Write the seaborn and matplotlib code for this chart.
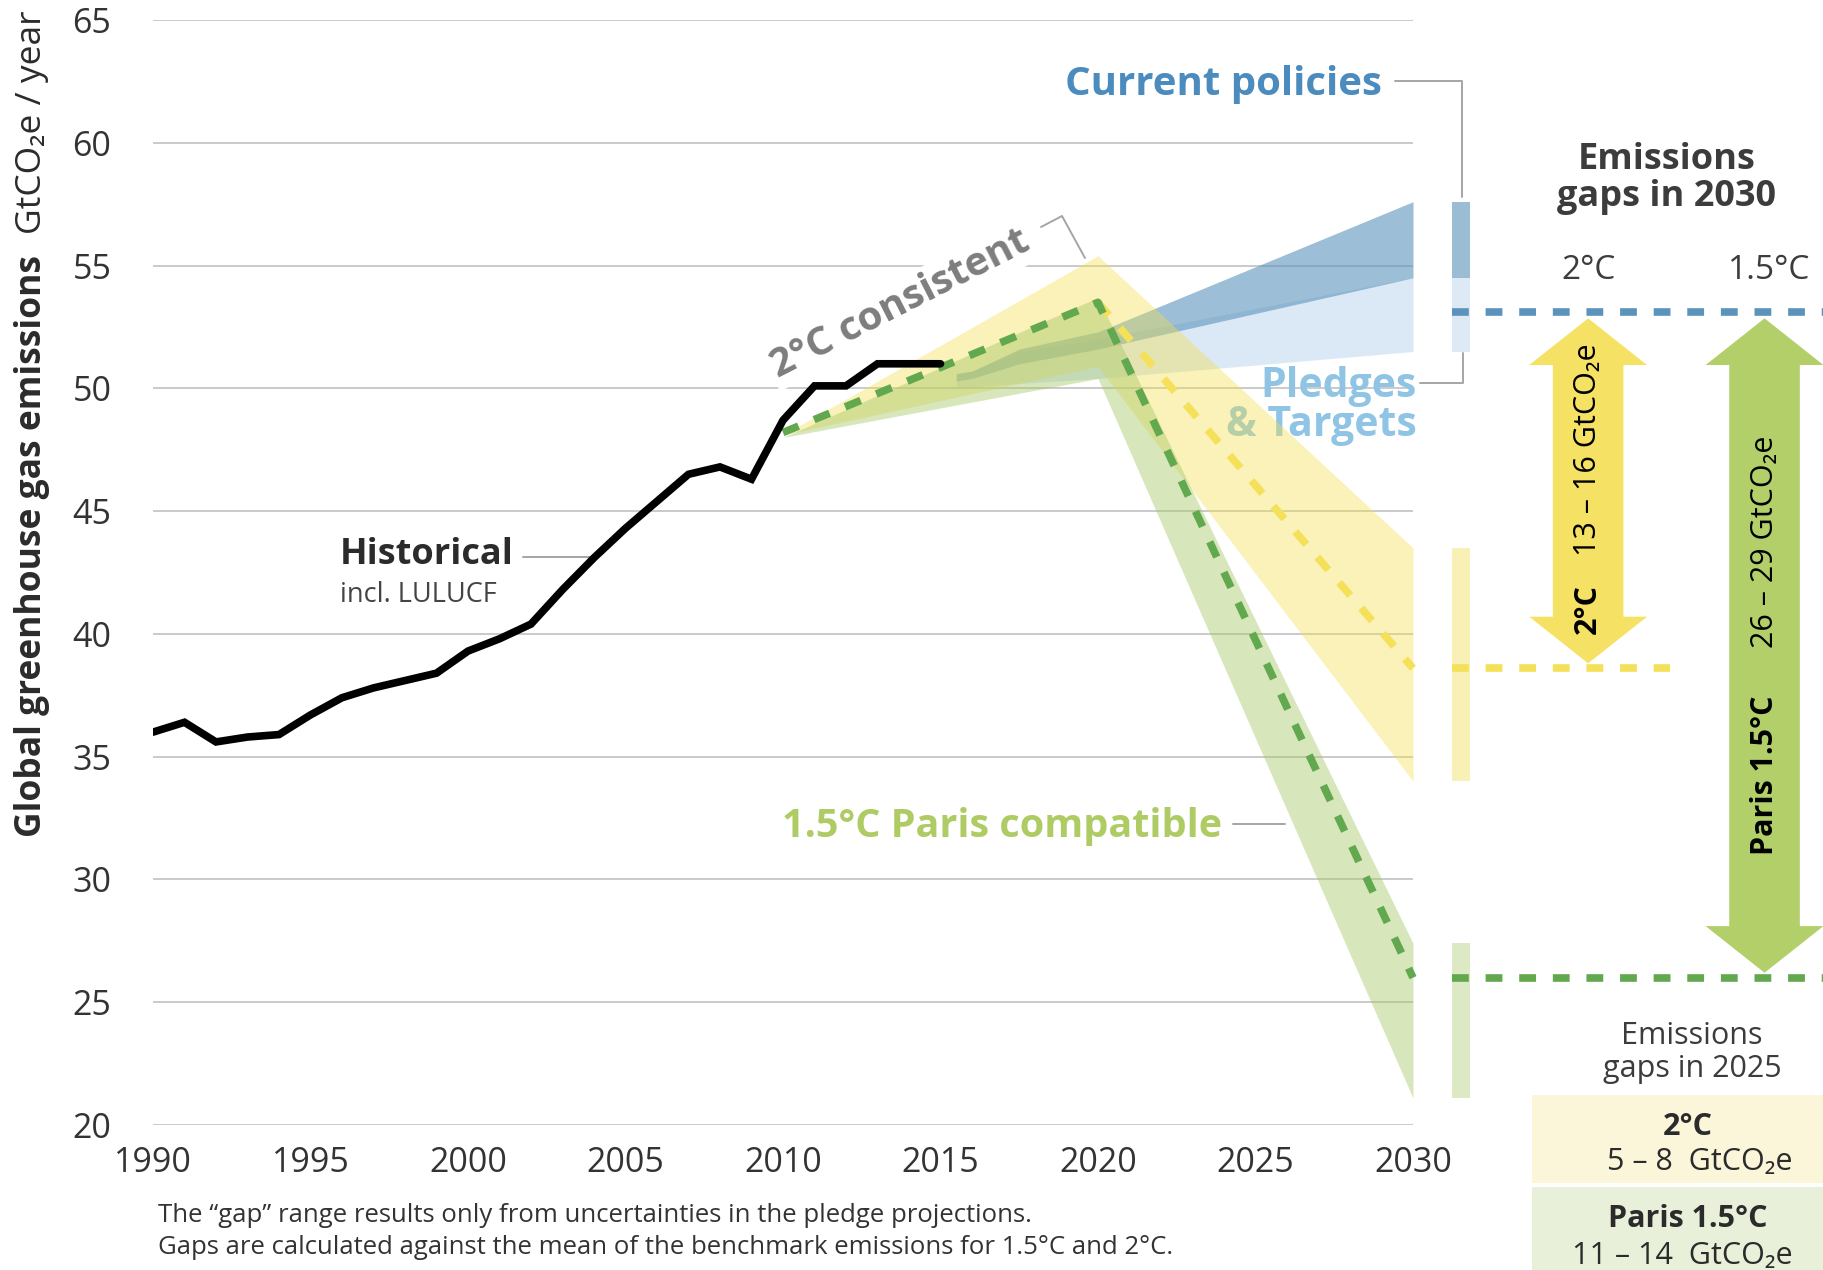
import matplotlib
matplotlib.use("Agg")
import matplotlib.pyplot as plt
from matplotlib.lines import Line2D
from matplotlib.patches import Rectangle, Polygon
import seaborn as sns

# historical emissions incl. LULUCF (GtCO2e / year)
hist_years = list(range(1990, 2016))
hist_values = [36.0, 36.4, 35.6, 35.8, 35.9, 36.7, 37.4, 37.8, 38.1, 38.4,
               39.3, 39.8, 40.4, 41.8, 43.1, 44.3, 45.4, 46.5, 46.8, 46.3,
               48.7, 50.1, 50.1, 51.0, 51.0, 51.0]

# benchmark pathways
path_years = [2010, 2020, 2030]
two_upper = [48.1, 55.4, 43.5]
two_lower = [48.1, 50.9, 34.0]
one5_upper = [48.0, 53.7, 27.4]
one5_lower = [48.0, 50.4, 21.1]
one5_mean = [48.2, 53.5, 26.0]
two_mean_years = [2020, 2030]
two_mean = [53.5, 38.6]

# projections
proj_years = [2015.5, 2016, 2017.5, 2020, 2030]
cpol_upper = [50.6, 50.7, 51.6, 52.3, 57.6]
cpol_lower = [50.3, 50.4, 51.0, 51.6, 54.5]
pledge_upper = [50.6, 50.7, 51.5, 52.0, 54.5]
pledge_lower = [50.0, 50.05, 50.2, 50.4, 51.5]
pledge_mean_2030 = 53.1

gap_2030_labels = ["13 \u2013 16", "26 \u2013 29"]
gap_2025_labels = ["5 \u2013 8", "11 \u2013 14"]

W, H = 1824, 1270
X0, PXY = 153, 31.5        # pixel of 1990, pixels per year
sns.set_style("white")
plt.rcParams['font.family'] = ['Open Sans', 'DejaVu Sans']

fig = plt.figure(figsize=(W / 100, H / 100), dpi=100)
ax = fig.add_axes([X0 / W, 1 - 1125 / H, (W - X0) / W, 1105 / H])
ax.set_xlim(1990, 1990 + (W - X0) / PXY)
ax.set_ylim(20, 65)
sns.despine(ax=ax, left=True, bottom=True)

def ftext(x, y, s, **kw):
    return ax.text(x / W, 1 - y / H, s, transform=fig.transFigure, **kw)

def fline(xs, ys, **kw):
    ax.add_artist(Line2D([x / W for x in xs], [1 - y / H for y in ys], clip_on=False,
                         transform=fig.transFigure, color='#a5a5a5', lw=1.4, **kw))

# grid
ax.hlines(range(20, 66, 5), 1990, 2030, color='#cacaca', lw=1.4, zorder=0)
ax.set_xticks(range(1990, 2031, 5))
ax.set_yticks(range(20, 66, 5))
ax.tick_params(length=0, labelsize=24.5, labelcolor='#333333')
ax.tick_params(axis='y', pad=30)
ax.tick_params(axis='x', pad=15)

# bands
ax.fill_between(proj_years, pledge_lower, pledge_upper, color='#a7c7e7', alpha=0.4, lw=0, zorder=2)
ax.fill_between(proj_years, cpol_lower, cpol_upper, color='#5b93bb', alpha=0.6, lw=0, zorder=2)
ax.fill_between(path_years, two_lower, two_upper, color='#f3e04f', alpha=0.4, lw=0, zorder=2.1)
ax.fill_between(path_years, one5_lower, one5_upper, color='#a8c86a', alpha=0.45, lw=0, zorder=2.2)

dash = (0, (2.2, 2.2))
sns.lineplot(x=hist_years, y=hist_values, color='black', lw=5.5, ax=ax, zorder=4,
             solid_joinstyle='miter')
sns.lineplot(x=two_mean_years, y=two_mean, color='#f5e05a', lw=5.5, linestyle=dash, ax=ax, zorder=3)
sns.lineplot(x=path_years, y=one5_mean, color='#62a84f', lw=5.5, linestyle=dash, ax=ax, zorder=3.1)
ax.set_xlabel('')
ax.set_ylabel('')

# gap bars at 2030
bx, bw = 2031.52, 0.58
ax.bar(bx, cpol_upper[-1] - cpol_lower[-1], bottom=cpol_lower[-1], width=bw, color='#9bbdd4', lw=0, clip_on=False)
ax.bar(bx, pledge_upper[-1] - pledge_lower[-1], bottom=pledge_lower[-1], width=bw, color='#dde9f4', lw=0, clip_on=False)
ax.bar(bx, two_upper[-1] - two_lower[-1], bottom=two_lower[-1], width=bw, color='#f8f0b4', lw=0, clip_on=False)
ax.bar(bx, one5_upper[-1] - one5_lower[-1], bottom=one5_lower[-1], width=bw, color='#dde8c4', lw=0, clip_on=False)

x_end = ax.get_xlim()[1]
xs = bx - bw / 2
ax.plot([xs, x_end], [pledge_mean_2030] * 2, color='#5b93bb', lw=5.5, ls=dash, clip_on=False, zorder=3)
ax.plot([xs, 2038.16], [two_mean[-1]] * 2, color='#f5e05a', lw=5.5, ls=dash, clip_on=False, zorder=3)
ax.plot([xs, x_end], [one5_mean[-1]] * 2, color='#62a84f', lw=5.5, ls=dash, clip_on=False, zorder=3)

def double_arrow(xc, top, bottom, color):
    sw, hw, hl = 1.12, 1.87, 1.9
    pts = [(xc, top), (xc + hw, top - hl), (xc + sw, top - hl), (xc + sw, bottom + hl),
           (xc + hw, bottom + hl), (xc, bottom), (xc - hw, bottom + hl), (xc - sw, bottom + hl),
           (xc - sw, top - hl), (xc - hw, top - hl)]
    ax.add_patch(Polygon(pts, closed=True, fc=color, ec='none', clip_on=False, zorder=3))

double_arrow(2035.56, pledge_mean_2030 - 0.25, two_mean[-1] + 0.2, '#f5e264')
double_arrow(2041.16, pledge_mean_2030 - 0.25, one5_mean[-1] + 0.2, '#b2cf6a')

# mixed-weight rotated labels
def vlabel(x, y_bottom, y_top, bold, regular, size, color):
    ftext(x, y_bottom, bold, rotation=90, ha='center', va='bottom', fontsize=size,
          fontweight='bold', color=color)
    ftext(x, y_top, regular, rotation=90, ha='center', va='top', fontsize=size, color=color)

vlabel(32, 837, 10, 'Global greenhouse gas emissions', 'GtCO\u2082e / year', 25.5, '#2b2b2b')
vlabel(1588, 634, 343, '2\u00b0C', gap_2030_labels[0] + ' GtCO\u2082e', 22, 'black')
vlabel(1765, 855, 436, 'Paris 1.5\u00b0C', gap_2030_labels[1] + ' GtCO\u2082e', 22, 'black')

# annotations
ftext(1382, 84, 'Current policies', ha='right', va='center', fontsize=29, fontweight='bold', color='#4b8bbd')
fline([1395, 1462, 1462], [81, 81, 197])
ftext(1417, 387, 'Pledges', ha='right', va='center', fontsize=29.5, fontweight='bold', color='#8fc4e4', zorder=1.5)
ftext(1417, 425, '& Targets', ha='right', va='center', fontsize=29.5, fontweight='bold', color='#8fc4e4', zorder=1.5)
fline([1463, 1463, 1420], [353, 383, 383])
ftext(900, 304, '2\u00b0C consistent', ha='center', va='center', rotation=27, rotation_mode='anchor',
      fontsize=29, fontweight='bold', color='#7d7d7d', zorder=1,
      bbox=dict(fc='white', ec='none', pad=3))
fline([1041, 1062, 1085], [227, 216, 258])
ftext(340, 555, 'Historical', ha='left', va='center', fontsize=26, fontweight='bold', color='#2b2b2b')
ftext(340, 595, 'incl. LULUCF', ha='left', va='center', fontsize=19.5, color='#444444')
fline([523, 598], [557, 557])
ftext(782, 826, '1.5\u00b0C Paris compatible', ha='left', va='center', fontsize=28.5, fontweight='bold', color='#afcb63')
fline([1233, 1285], [824, 824])

ftext(1667, 160, 'Emissions', ha='center', va='center', fontsize=26, fontweight='bold', color='#3c3c3c')
ftext(1667, 197, 'gaps in 2030', ha='center', va='center', fontsize=26, fontweight='bold', color='#3c3c3c')
ftext(1589, 270, '2\u00b0C', ha='center', va='center', fontsize=24, color='#3c3c3c')
ftext(1769, 270, '1.5\u00b0C', ha='center', va='center', fontsize=24, color='#3c3c3c')

ftext(1692, 1036, 'Emissions', ha='center', va='center', fontsize=22, color='#3c3c3c')
ftext(1692, 1069, 'gaps in 2025', ha='center', va='center', fontsize=22, color='#3c3c3c')
ax.add_artist(Rectangle((1532 / W, 1 - 1183 / H), (W - 1532) / W, 88 / H, transform=fig.transFigure,
                        fc='#fbf6da', ec='none', zorder=0.5, clip_on=False))
ax.add_artist(Rectangle((1532 / W, 0), (W - 1532) / W, 83 / H, transform=fig.transFigure,
                        fc='#e9f0d9', ec='none', zorder=0.5, clip_on=False))
ftext(1688, 1127, '2\u00b0C', ha='center', va='center', fontsize=22, fontweight='bold', color='#2b2b2b')
ftext(1700, 1162, gap_2025_labels[0] + '  GtCO\u2082e', ha='center', va='center', fontsize=22, color='#2b2b2b')
ftext(1688, 1219, 'Paris 1.5\u00b0C', ha='center', va='center', fontsize=22, fontweight='bold', color='#2b2b2b')
ftext(1682, 1256, gap_2025_labels[1] + '  GtCO\u2082e', ha='center', va='center', fontsize=22, color='#2b2b2b')

ftext(158, 1215, 'The \u201cgap\u201d range results only from uncertainties in the pledge projections.',
      ha='left', va='center', fontsize=18.5, color='#333333')
ftext(158, 1248, 'Gaps are calculated against the mean of the benchmark emissions for 1.5\u00b0C and 2\u00b0C.',
      ha='left', va='center', fontsize=18.5, color='#333333')

fig.savefig('out.png', dpi=100)
